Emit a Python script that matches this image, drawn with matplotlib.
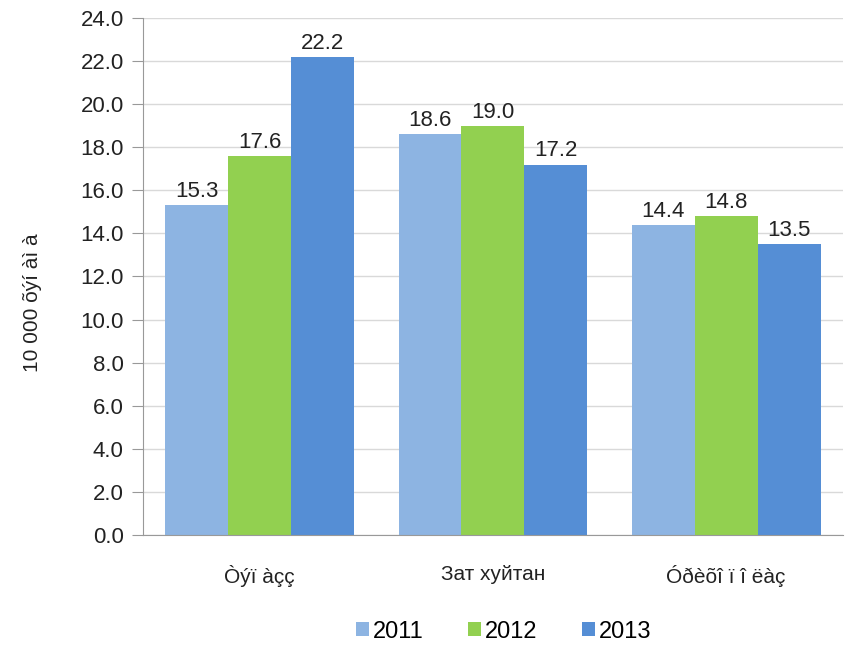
import matplotlib
matplotlib.use("Agg")
import matplotlib.pyplot as plt
import numpy as np

plt.rcParams['font.family'] = ['Liberation Sans', 'DejaVu Sans']

categories = ["Òýï àçç", "Зат хуйтан", "Óðèõî ï î ëàç"]
years = ["2011", "2012", "2013"]
values_2011 = [15.3, 18.6, 14.4]
values_2012 = [17.6, 19.0, 14.8]
values_2013 = [22.2, 17.2, 13.5]
y_label = "10 000 õýí àì à"

colors = ["#8db4e2", "#92d050", "#558ed5"]

fig = plt.figure(figsize=(8.47, 6.49), dpi=100)
ax = fig.add_axes([0.169, 0.176, 0.826, 0.796])

x = np.arange(len(categories))
w = 0.27
series = [values_2011, values_2012, values_2013]
for i, vals in enumerate(series):
    bars = ax.bar(x + (i - 1) * w, vals, w, color=colors[i], label=years[i], zorder=2)
    for b, v in zip(bars, vals):
        ax.text(b.get_x() + b.get_width() / 2, v + 0.15, f"{v:.1f}",
                ha="center", va="bottom", fontsize=16, color="#222222")

ax.set_xlim(-0.5, 2.5)
ax.set_ylim(0, 24)
ax.set_yticks(np.arange(0, 24.1, 2))
ax.set_yticklabels([f"{t:.1f}" for t in np.arange(0, 24.1, 2)])
ax.set_xticks(x)
ax.set_xticklabels(categories)
ax.tick_params(axis="y", labelsize=16, length=8, color="#999999", colors="#222222", pad=6)
ax.tick_params(axis="x", labelsize=15, length=0, pad=22, colors="#222222")
ax.yaxis.grid(True, color="#d9d9d9", linewidth=1, zorder=0)
ax.set_axisbelow(True)
for s in ["top", "right"]:
    ax.spines[s].set_visible(False)
ax.spines["left"].set_color("#999999")
ax.spines["bottom"].set_color("#999999")
ax.set_ylabel(y_label, fontsize=15, color="#222222")
ax.yaxis.set_label_coords(-0.145, 0.45)

ax.legend(loc="upper center", bbox_to_anchor=(0.515, -0.125), ncol=3, frameon=False,
          fontsize=17, handlelength=0.55, handleheight=0.55, handletextpad=0.15,
          columnspacing=1.9)

fig.savefig("out.png", dpi=100)
